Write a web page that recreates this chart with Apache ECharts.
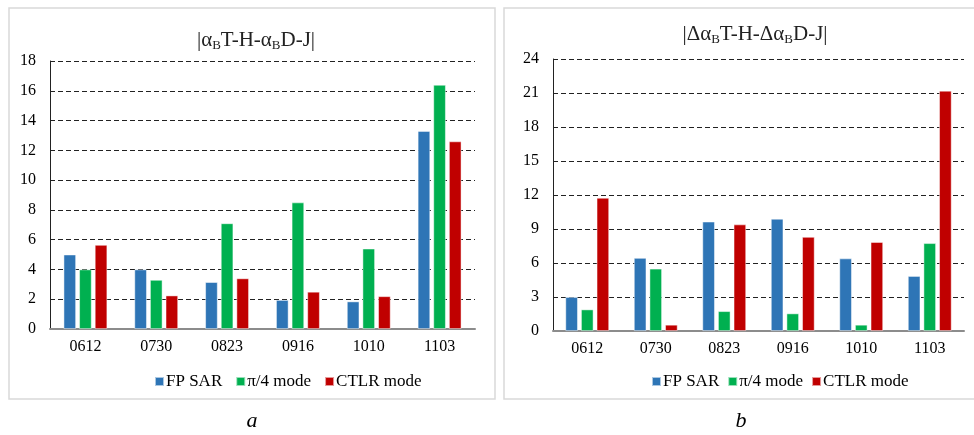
<!DOCTYPE html>
<html>
<head>
<meta charset="utf-8">
<script src="https://cdn.jsdelivr.net/npm/echarts@6/dist/echarts.min.js"></script>
<style>html,body{margin:0;padding:0;background:#fff;}#c{width:974px;height:435px;}</style>
</head>
<body>
<div id="c"></div>
<script>
const categories = ['0612','0730','0823','0916','1010','1103'];
const seriesNames = ['FP SAR','\u03c0/4 mode','CTLR mode'];
// chart a
const aFP   = [5.0, 4.0, 3.15, 1.95, 1.85, 13.3];
const aPi4  = [4.0, 3.3, 7.1, 8.5, 5.4, 16.4];
const aCTLR = [5.65, 2.25, 3.4, 2.5, 2.2, 12.6];
// chart b
const bFP   = [3.0, 6.45, 9.65, 9.9, 6.4, 4.85];
const bPi4  = [1.9, 5.5, 1.75, 1.55, 0.55, 7.75];
const bCTLR = [11.75, 0.55, 9.4, 8.3, 7.85, 21.2];

const colors = ['#2E75B6','#00B050','#C00000'];
const serif = "'Liberation Serif','DejaVu Serif',serif";

const chart = echarts.init(document.getElementById('c'));
function xAxis(gi){
  return {type:'category', gridIndex:gi, data:categories,
    axisLine:{lineStyle:{color:'#8c8c8c', width:2}}, axisTick:{show:false},
    axisLabel:{fontFamily:serif, fontSize:16, color:'#000', margin:10}};
}
function yAxis(gi, max, interval){
  return {type:'value', gridIndex:gi, min:0, max:max, interval:interval,
    axisLine:{show:true, lineStyle:{color:'#222', width:1}}, axisTick:{show:false},
    splitLine:{lineStyle:{color:'#222', type:[5,3], width:1}},
    axisLabel:{fontFamily:serif, fontSize:16, color:'#000', margin:14}};
}
function bar(name, data, gi, ci){
  return {type:'bar', name:name, data:data, xAxisIndex:gi, yAxisIndex:gi,
    barWidth:12.5, barGap:'25%', itemStyle:{color:colors[ci], borderColor:'rgba(255,255,255,0.6)', borderWidth:0.8},
    silent:true, animation:false};
}
const titleRich = {sub:{fontFamily:serif, fontSize:13, color:'#222', padding:[10,0,0,0]}};
chart.setOption({
  animation:false,
  color:colors,
  title:[
    {text:'|\u03b1{sub|B}T-H-\u03b1{sub|B}D-J|', left:251, top:24, textAlign:'center',
      textStyle:{fontFamily:serif, fontSize:21, fontWeight:'normal', color:'#222', rich:titleRich}},
    {text:'|\u0394\u03b1{sub|B}T-H-\u0394\u03b1{sub|B}D-J|', left:750, top:18, textAlign:'center',
      textStyle:{fontFamily:serif, fontSize:21, fontWeight:'normal', color:'#222', rich:titleRich}}
  ],
  legend:[
    {data:seriesNames, left:149, top:368, itemWidth:9, itemHeight:9, itemGap:13, icon:'rect',
      textStyle:{fontFamily:serif, fontSize:17, color:'#000', padding:[0,0,0,-3]}},
    {data:seriesNames, left:646, top:368, itemWidth:9, itemHeight:9, itemGap:8, icon:'rect',
      textStyle:{fontFamily:serif, fontSize:17, color:'#000', padding:[0,0,0,-3]}}
  ],
  grid:[
    {left:50, right:499, top:61, bottom:106},
    {left:553, right:10, top:59, bottom:104}
  ],
  xAxis:[xAxis(0), xAxis(1)],
  yAxis:[yAxis(0,18,2), yAxis(1,24,3)],
  series:[
    bar(seriesNames[0], aFP, 0, 0), bar(seriesNames[1], aPi4, 0, 1), bar(seriesNames[2], aCTLR, 0, 2),
    bar(seriesNames[0], bFP, 1, 0), bar(seriesNames[1], bPi4, 1, 1), bar(seriesNames[2], bCTLR, 1, 2)
  ],
  graphic:[
    {type:'rect', shape:{x:9, y:8, width:486, height:391}, style:{fill:'none', stroke:'#d9d9d9', lineWidth:1.5}, z:-1},
    {type:'rect', shape:{x:504, y:8, width:475, height:391}, style:{fill:'none', stroke:'#d9d9d9', lineWidth:1.5}, z:-1},
    {type:'text', x:252, y:421, style:{text:'a', fontFamily:serif, fontStyle:'italic', fontSize:22, fill:'#000', align:'center', verticalAlign:'middle'}},
    {type:'text', x:741, y:421, style:{text:'b', fontFamily:serif, fontStyle:'italic', fontSize:22, fill:'#000', align:'center', verticalAlign:'middle'}}
  ]
});
</script>
</body>
</html>
